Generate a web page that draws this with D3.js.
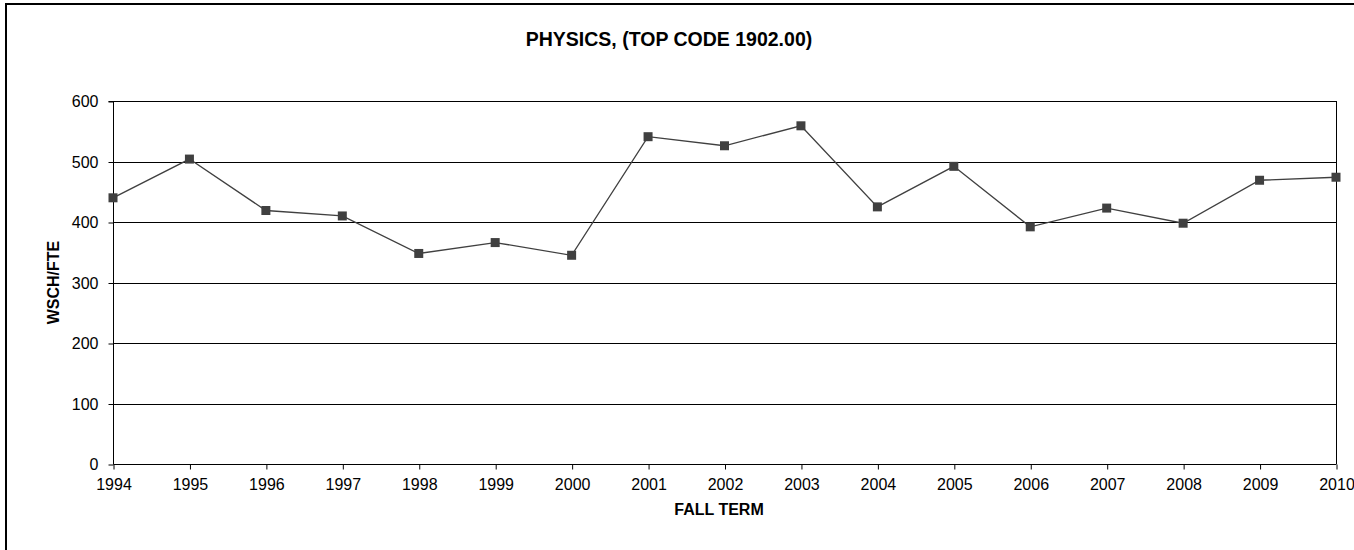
<!DOCTYPE html>
<html><head><meta charset="utf-8">
<script src="https://cdn.jsdelivr.net/npm/d3@7"></script>
<style>body{margin:0;background:#fff}svg{display:block;font-family:"Liberation Sans",Arial,sans-serif}</style>
</head><body><svg id="c" width="1354" height="550"></svg>
<script>
const years = ["1994","1995","1996","1997","1998","1999","2000","2001","2002","2003","2004","2005","2006","2007","2008","2009","2010"];
const values = [440,504,419,410,348,366,345,541,526,559,425,492,392,423,398,469,474];
const yTicks = [0,100,200,300,400,500,600];
const title = "PHYSICS, (TOP CODE 1902.00)";
const xTitle = "FALL TERM";
const yTitle = "WSCH/FTE";

const svg = d3.select("#c");
const L=113, R=1336, T=101, B=464;
svg.append("rect").attr("x",6).attr("y",4).attr("width",1360).attr("height",560)
  .attr("fill","none").attr("stroke","#000").attr("stroke-width",2);
const x = d3.scalePoint().domain(years).range([L,R]);
const y = d3.scaleLinear().domain([0,600]).range([B,T]);

const g = svg.append("g");
g.selectAll("line.grid").data(yTicks.filter(d=>d>0)).join("line")
  .attr("x1",L).attr("x2",R).attr("y1",d=>Math.round(y(d))+0.5).attr("y2",d=>Math.round(y(d))+0.5)
  .attr("stroke","#000").attr("stroke-width",1);
g.append("line").attr("x1",R+0.5).attr("x2",R+0.5).attr("y1",T).attr("y2",B).attr("stroke","#000");

const ya = svg.append("g").attr("transform",`translate(${L+0.5},0.5)`)
  .call(d3.axisLeft(y).tickValues(yTicks).tickSize(5).tickPadding(10).tickFormat(d3.format("d")));
const xa = svg.append("g").attr("transform",`translate(0.5,${B+0.5})`)
  .call(d3.axisBottom(x).tickSize(5).tickPadding(9));
[ya,xa].forEach(a=>{a.attr("font-size",16).attr("font-family","'Liberation Sans',Arial,sans-serif");
  a.selectAll("path,line").attr("stroke","#000").attr("stroke-width",1);
  a.selectAll("text").attr("fill","#000");});
ya.select(".domain").attr("d",`M-5,${T}H0V${B}`);
xa.select(".domain").attr("d",`M${L},0H${R}`);

const line = d3.line().x((d,i)=>x(years[i])).y(d=>y(d));
svg.append("path").datum(values).attr("d",line).attr("fill","none").attr("stroke","#404040").attr("stroke-width",1.3);
svg.selectAll("rect.m").data(values).join("rect").attr("class","m")
  .attr("x",(d,i)=>x(years[i])-4.5).attr("y",d=>y(d)-4.5).attr("width",9).attr("height",9).attr("fill","#404040");

svg.append("text").attr("x",669).attr("y",46).attr("text-anchor","middle")
  .attr("font-size",19.5).attr("font-weight","bold").text(title);
svg.append("text").attr("x",719).attr("y",515).attr("text-anchor","middle")
  .attr("font-size",16).attr("font-weight","bold").text(xTitle);
svg.append("text").attr("transform",`translate(59,${(T+B)/2}) rotate(-90)`).attr("text-anchor","middle")
  .attr("font-size",16).attr("font-weight","bold").text(yTitle);
</script></body></html>
